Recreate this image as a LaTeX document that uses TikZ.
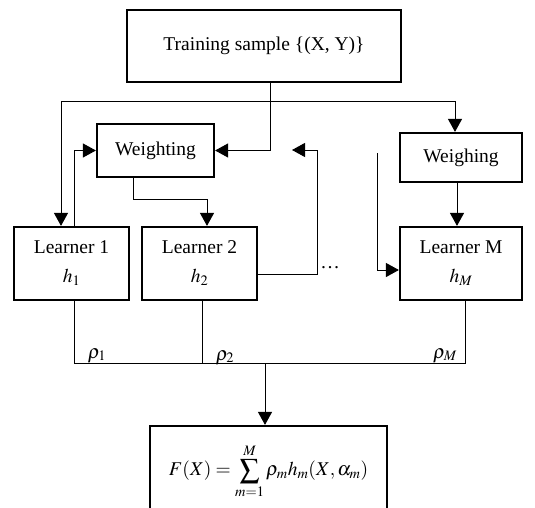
\documentclass[tikz,border=0pt]{standalone}
\usepackage{mathptmx}
\usepackage{fontspec}
\setmainfont{Liberation Serif}
\usetikzlibrary{arrows.meta}

\tikzset{
    box/.style={draw, line width=2.2pt, minimum width=#1, inner sep=0pt, align=center},
    conn/.style={line width=1pt},
    arr/.style={conn, -{Triangle[length=13pt,width=14pt]}}
}

\begin{document}
\begin{tikzpicture}[x=1pt, y=-1pt, font=\fontsize{19.5}{29}\selectfont]

    \useasboundingbox (0,0) rectangle (535,508);

    \node [box=274pt, minimum height=72pt] (train) at (264,46) {Training sample \{(X, Y)\}};
    \node [box=117pt, minimum height=53pt] (wt) at (155.5,150.5) {Weighting};
    \node [box=122pt, minimum height=49pt] (wm) at (461,157.5) {Weighing};
    \node [box=115pt, minimum height=73pt] (l1) at (71.5,263.5) {Learner 1\\$h_1$};
    \node [box=115pt, minimum height=73pt] (l2) at (199.5,263.5) {Learner 2\\$h_2$};
    \node [box=122pt, minimum height=73pt] (lM) at (461,263.5) {Learner M\\$h_M$};
    \node [box=237pt, minimum height=90pt] (fx) at (268.5,471)
        {$\displaystyle F(X)=\sum_{m=1}^{M}\rho_m h_m(X,\alpha_m)$};

    \node (dots) at (330,268) {\ldots};
    \node [anchor=base] (rho1) at (97,358) {$\rho_1$};
    \node [anchor=base] (rho2) at (225,360) {$\rho_2$};
    \node [anchor=base] (rhoM) at (445,358) {$\rho_M$};

    \coordinate (bus) at (61,102);
    \coordinate (ret) at (292,150);
    \coordinate (ent) at (377,153);
    \coordinate (sum) at (265,363);
    \coordinate (rM) at (465,363);

    % sample to the learners
    \draw[arr] ([xshift=6pt]train.south) |- (wt.east);
    \draw[arr] (bus) -- (bus |- l1.north);
    \draw[arr] (bus) -| ([xshift=-6pt]wm.north);

    % weighting loop
    \draw[arr] ([xshift=2.5pt]l1.north) |- (wt.west);
    \draw[arr] ([xshift=-22pt]wt.south) -- ++(0,21) -| ([xshift=7.5pt]l2.north);
    \draw[arr] ([xshift=-4pt]wm.south) -- ([xshift=-4pt]lM.north);
    \draw[arr] ([yshift=-10.5pt]l2.east) -| (317,150) -- (ret);
    \draw[arr] (ent) |- ([yshift=-6.5pt]lM.west);

    % combination
    \draw[conn] ([xshift=2.5pt]l1.south) |- (rM) -- ([xshift=4pt]lM.south);
    \draw[conn] ([xshift=2.5pt]l2.south) -- ++(0,63);
    \draw[arr] (sum) -- (sum |- fx.north);

\end{tikzpicture}
\end{document}
